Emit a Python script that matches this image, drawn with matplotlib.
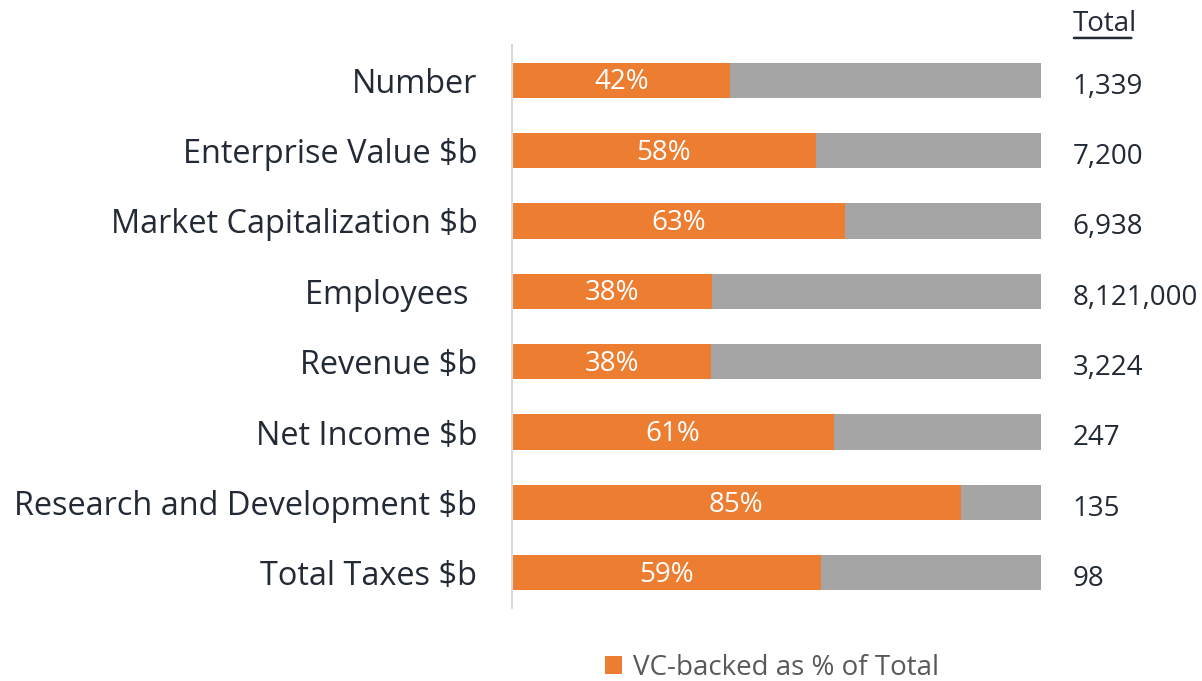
import numpy as np
import matplotlib.pyplot as plt

plt.rcParams['font.family'] = ['Open Sans', 'DejaVu Sans']

# Data
categories = ['Number', 'Enterprise Value $b', 'Market Capitalization $b',
              'Employees ', 'Revenue $b', 'Net Income $b',
              'Research and Development $b', 'Total Taxes $b']
vc_share = [0.413, 0.574, 0.629, 0.379, 0.377, 0.608, 0.848, 0.584]
share_labels = ['42%', '58%', '63%', '38%', '38%', '61%', '85%', '59%']
totals = ['1,339', '7,200', '6,938', '8,121,000', '3,224', '247', '135', '98']

orange = '#ED7D31'
grey = '#A5A5A5'
text_col = '#222A35'

fig = plt.figure(figsize=(12.02, 6.81), dpi=100)
ax = fig.add_axes([512 / 1202, 1 - 608 / 681, 529 / 1202, 563 / 681])

y = np.arange(len(categories))
vc = np.array(vc_share)
ax.barh(y, vc, height=0.5, color=orange, label='VC-backed as % of Total')
ax.barh(y, 1 - vc, left=vc, height=0.5, color=grey)

for i, (v, lab) in enumerate(zip(vc, share_labels)):
    ax.text(v / 2, i + 0.03, lab, color='white', fontsize=20, ha='center',
            va='center')

for i, t in enumerate(totals):
    ax.text(1.06, i + 0.09, t, color=text_col, fontsize=20, ha='left',
            va='center', clip_on=False)

ax.text(1.06, -0.8, 'Total', color=text_col, fontsize=20, ha='left',
        va='center', clip_on=False)
ax.annotate('', xy=(1.057, -0.6), xytext=(1.176, -0.6), xycoords='data',
            arrowprops=dict(arrowstyle='-', color=text_col, lw=1.8),
            annotation_clip=False)

ax.set_xlim(0, 1)
ax.set_ylim(len(categories) - 0.5, -0.5)
ax.set_yticks(y)
ax.set_yticklabels(categories, fontsize=23.4, color=text_col)
ax.tick_params(axis='y', length=0, pad=25)
ax.set_xticks([])
for side in ['top', 'right', 'bottom']:
    ax.spines[side].set_visible(False)
ax.spines['left'].set_color('#D9D9D9')
ax.spines['left'].set_linewidth(1.5)

leg = fig.legend(loc='center', bbox_to_anchor=(772 / 1202, 1 - 668 / 681),
                 frameon=False, fontsize=20, handlelength=0.6, handleheight=0.6,
                 handletextpad=0.4)
for t in leg.get_texts():
    t.set_color('#595959')

fig.savefig('out.png', dpi=100)
